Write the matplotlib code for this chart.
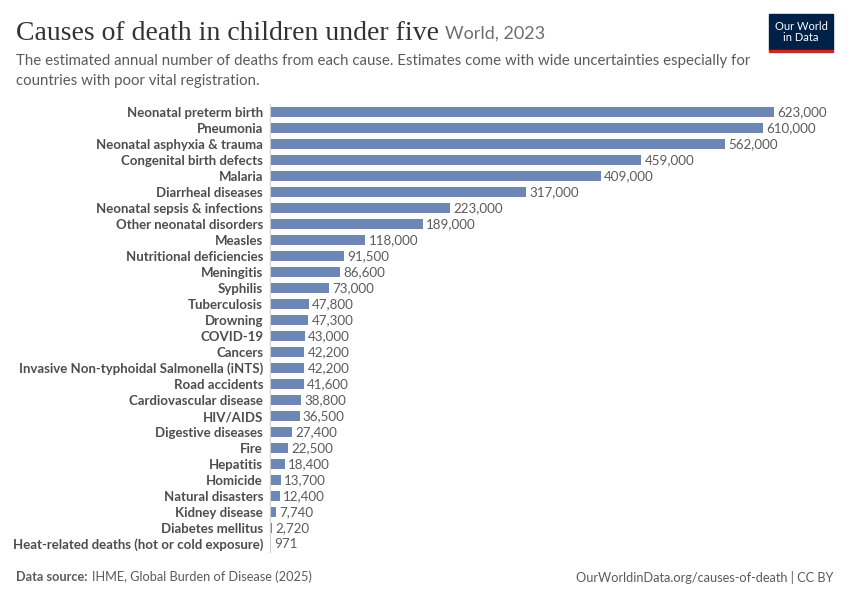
import matplotlib
matplotlib.use("Agg")
import matplotlib.pyplot as plt
from matplotlib.patches import Rectangle

# data
causes = [
    "Neonatal preterm birth", "Pneumonia", "Neonatal asphyxia & trauma",
    "Congenital birth defects", "Malaria", "Diarrheal diseases",
    "Neonatal sepsis & infections", "Other neonatal disorders", "Measles",
    "Nutritional deficiencies", "Meningitis", "Syphilis", "Tuberculosis",
    "Drowning", "COVID-19", "Cancers",
    "Invasive Non-typhoidal Salmonella (iNTS)", "Road accidents",
    "Cardiovascular disease", "HIV/AIDS", "Digestive diseases", "Fire",
    "Hepatitis", "Homicide", "Natural disasters", "Kidney disease",
    "Diabetes mellitus", "Heat-related deaths (hot or cold exposure)",
]
deaths = [
    623000, 610000, 562000, 459000, 409000, 317000, 223000, 189000, 118000,
    91500, 86600, 73000, 47800, 47300, 43000, 42200, 42200, 41600, 38800,
    36500, 27400, 22500, 18400, 13700, 12400, 7740, 2720, 971,
]

bar_color = "#6d87b4"
plt.rcParams["font.family"] = ["Lato", "DejaVu Sans"]

fig = plt.figure(figsize=(8.5, 6), dpi=100)
ax = fig.add_axes([270 / 850, 1 - 552 / 600, 504 / 850, 448 / 600])

ypos = list(range(len(causes)))
ax.barh(ypos, deaths, height=0.62, color=bar_color)
ax.set_ylim(len(causes) - 0.5, -0.5)
ax.set_xlim(0, max(deaths))

for y, v in zip(ypos, deaths):
    ax.text(v + 4000, y, f"{v:,}", va="center", ha="left",
            fontsize=9.6, color="#5b5b5b")

ax.set_yticks(ypos)
ax.set_yticklabels(causes, fontsize=9.5, fontweight="bold", color="#4d4d4d")
ax.tick_params(axis="y", length=0, pad=5)
ax.set_xticks([])
for s in ["top", "right", "bottom"]:
    ax.spines[s].set_visible(False)
ax.spines["left"].set_color("#cccccc")
ax.spines["left"].set_linewidth(0.8)

# title and subtitle
title = fig.text(16 / 850, 1 - 33 / 600, "Causes of death in children under five",
                 fontsize=20, family="Liberation Serif", color="#333333",
                 va="center")
fig.canvas.draw()
bb = title.get_window_extent()
fig.text(bb.x1 / 850 + 6 / 850, 1 - 34 / 600, "World, 2023", fontsize=13,
         color="#6e6e6e", va="center")
fig.text(16 / 850, 1 - 61 / 600,
         "The estimated annual number of deaths from each cause. Estimates come with wide uncertainties especially for",
         fontsize=10.8, color="#5b5b5b", va="center")
fig.text(16 / 850, 1 - 81 / 600, "countries with poor vital registration.",
         fontsize=10.8, color="#5b5b5b", va="center")

# logo
fig.patches.append(Rectangle((769 / 850, 1 - 50 / 600), 64 / 850, 36 / 600,
                             transform=fig.transFigure, color="#002147"))
fig.patches.append(Rectangle((769 / 850, 1 - 52 / 600), 64 / 850, 2.5 / 600,
                             transform=fig.transFigure, color="#ce261e"))
fig.text(801 / 850, 1 - 32 / 600, "Our World\nin Data", ha="center",
         va="center", fontsize=8, color="white", linespacing=1.0)

# footer
fig.text(16 / 850, 1 - 577 / 600, "Data source:", fontsize=9.2,
         fontweight="bold", color="#5b5b5b", va="center")
fig.text(92 / 850, 1 - 577 / 600, "IHME, Global Burden of Disease (2025)",
         fontsize=9.2, color="#5b5b5b", va="center")
fig.text(833 / 850, 1 - 577 / 600, "OurWorldinData.org/causes-of-death | CC BY",
         fontsize=9.2, color="#5b5b5b", va="center", ha="right")

fig.savefig("out.png", dpi=100)
